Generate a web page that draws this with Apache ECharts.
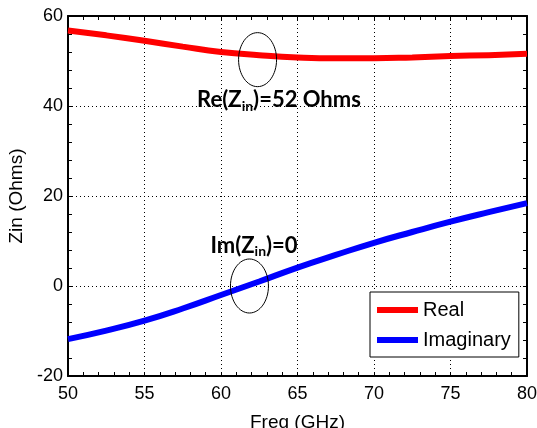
<!DOCTYPE html>
<html><head><meta charset="utf-8">
<script src="https://cdn.jsdelivr.net/npm/echarts@6/dist/echarts.min.js"></script>
<style>html,body{margin:0;padding:0;background:#fff}#c{width:537px;height:428px}</style>
</head><body><div id="c"></div>
<script>
const freq = [50, 52.5, 55, 57.5, 60, 62.5, 65, 67.5, 70, 72.5, 75, 77.5, 80];
const realZin = [56.8, 55.7, 54.5, 53.2, 52.0, 51.3, 50.8, 50.6, 50.6, 50.8, 51.1, 51.3, 51.6];
const imagZin = [-11.8, -9.9, -7.7, -5.0, -2.0, 1.0, 4.1, 6.9, 9.6, 12.0, 14.3, 16.4, 18.4];
const seriesNames = ['Real', 'Imaginary'];
const xRange = [50, 80], xStep = 5;
const yRange = [-20, 60], yStep = 20;
// annotations in data units: [x, y]
const reEllipse = [62.39, 50.3], imEllipse = [61.86, 0.0];
const reLabel = [63.79, 41.3], imLabel = [62.16, 8.9];

const chart = echarts.init(document.getElementById('c'), null, {renderer: 'canvas'});
const FONT = 'Liberation Sans';
const black = '#000';
function xAxisCfg(pos, main) {
  return {
    type: 'value', min: xRange[0], max: xRange[1], interval: xStep, position: pos,
    axisLine: {show: true, onZero: false, lineStyle: {color: black, width: 2}},
    axisTick: {show: true, inside: true, length: 4, lineStyle: {color: black, width: 1}},
    minorTick: {show: true, splitNumber: 5, length: 4, lineStyle: {color: black, width: 1}},
    axisLabel: {show: main, color: black, fontSize: 18, fontFamily: FONT, margin: 9},
    splitLine: {show: main, lineStyle: {color: black, width: 1, type: [1, 3]}},
    name: main ? 'Freq (GHz)' : '', nameLocation: 'middle', nameGap: 37,
    nameTextStyle: {color: black, fontSize: 19, fontFamily: FONT}
  };
}
function yAxisCfg(pos, main) {
  return {
    type: 'value', min: yRange[0], max: yRange[1], interval: yStep, position: pos,
    axisLine: {show: true, onZero: false, lineStyle: {color: black, width: 2}},
    axisTick: {show: true, inside: true, length: 4, lineStyle: {color: black, width: 1}},
    minorTick: {show: true, splitNumber: 5, length: 4, lineStyle: {color: black, width: 1}},
    axisLabel: {show: main, color: black, fontSize: 18, fontFamily: FONT, margin: 5},
    splitLine: {show: main, lineStyle: {color: black, width: 1, type: [1, 3]}},
    name: main ? 'Zin (Ohms)' : '', nameLocation: 'middle', nameGap: 34, nameRotate: 90,
    nameTextStyle: {color: black, fontSize: 19, fontFamily: FONT}
  };
}
chart.setOption({
  animation: false,
  backgroundColor: '#fff',
  grid: {left: 68, right: 10, top: 16, bottom: 52, containLabel: false, outerBoundsMode: 'none'},
  xAxis: [xAxisCfg('bottom', true), xAxisCfg('top', false)],
  yAxis: [yAxisCfg('left', true), yAxisCfg('right', false)],
  legend: {
    data: seriesNames, orient: 'vertical', left: 370, top: 292,
    backgroundColor: '#fff', borderColor: black, borderWidth: 1, borderRadius: 0,
    padding: [8, 8, 7, 7], itemGap: 10, itemWidth: 41, itemHeight: 6, icon: 'rect',
    textStyle: {color: black, fontSize: 20, fontFamily: FONT, padding: [0, 0, 0, 0]}
  },
  series: [
    {name: seriesNames[0], type: 'line', data: freq.map((f, i) => [f, realZin[i]]),
     showSymbol: false, smooth: true, lineStyle: {color: '#ff0000', width: 6}, itemStyle: {color: '#ff0000'}},
    {name: seriesNames[1], type: 'line', data: freq.map((f, i) => [f, imagZin[i]]),
     showSymbol: false, smooth: true, lineStyle: {color: '#0000ff', width: 6}, itemStyle: {color: '#0000ff'}}
  ]
});

function px(p) { return chart.convertToPixel({xAxisIndex: 0, yAxisIndex: 0}, p); }
const rich = {
  b: {fontSize: 22, fontWeight: 'bold', fontFamily: 'Lato', fill: black, color: black, lineHeight: 26},
  s: {fontSize: 14, fontWeight: 'bold', fontFamily: 'Lato', fill: black, color: black, lineHeight: 14, verticalAlign: 'bottom'}
};
function ellipse(c) {
  const p = px(c);
  return {type: 'ellipse', shape: {cx: p[0], cy: p[1], rx: 19, ry: 27},
          style: {fill: 'none', stroke: black, lineWidth: 1}, z: 100};
}
function label(c, txt) {
  const p = px(c);
  return {type: 'text', x: p[0], y: p[1], z: 100,
          style: {text: txt, rich: rich, align: 'center', verticalAlign: 'middle',
                  fontSize: 22, fontWeight: 'bold', fontFamily: 'Lato', fill: black}};
}
chart.setOption({graphic: [
  ellipse(reEllipse), ellipse(imEllipse),
  label(reLabel, '{b|Re(Z}{s|in}{b|)=52 Ohms}'),
  label(imLabel, '{b|Im(Z}{s|in}{b|)=0}')
]});
</script></body></html>
